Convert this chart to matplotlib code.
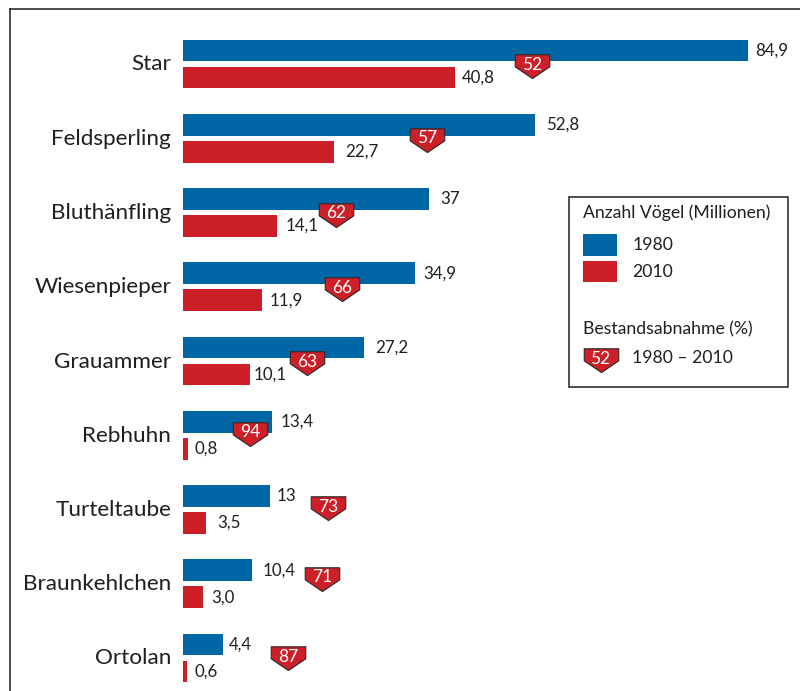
import matplotlib
matplotlib.use("Agg")
import matplotlib.pyplot as plt
from matplotlib.lines import Line2D
from matplotlib.patches import Rectangle
from matplotlib.path import Path
from matplotlib.transforms import Affine2D

plt.rcParams['font.family'] = ['Lato', 'Open Sans', 'DejaVu Sans']

species = ["Star", "Feldsperling", "Bluthänfling", "Wiesenpieper", "Grauammer",
           "Rebhuhn", "Turteltaube", "Braunkehlchen", "Ortolan"]
values_1980 = [84.9, 52.8, 37, 34.9, 27.2, 13.4, 13, 10.4, 6.0]
values_2010 = [40.8, 22.7, 14.1, 11.9, 10.1, 0.8, 3.5, 3.0, 0.6]
labels_1980 = ["84,9", "52,8", "37", "34,9", "27,2", "13,4", "13", "10,4", "4,4"]
labels_2010 = ["40,8", "22,7", "14,1", "11,9", "10,1", "0,8", "3,5", "3,0", "0,6"]
decline = [52, 57, 62, 66, 63, 94, 73, 71, 87]

# layout (not data)
badge_x = [52.4, 36.6, 23.0, 23.9, 18.6, 10.1, 21.8, 20.9, 15.8]
badge_dy = [.027, .017, .027, .037, .027, -.017, -.02, -.064, 0]
gap_1980 = [7, 11, 11, 8, 11, 8, 7, 10, 6]
gap_2010 = [7, 11, 9, 7, 3, 6, 11, 8, 8]

BLUE = "#0066A6"
RED = "#CC1F27"
INK = "#1f1f1f"
W, H = 800, 691
PX_PER_UNIT = 6.66
X0 = 183
ROW0, ROW = 64, 74.25

fig = plt.figure(figsize=(W / 100, H / 100), dpi=100, facecolor="white")
ax = fig.add_axes([X0 / W, 0, 1 - X0 / W, 1])
ax.set_xlim(0, (W - X0) / PX_PER_UNIT)
ax.set_ylim((H - ROW0) / ROW, -ROW0 / ROW)
for s in ax.spines.values():
    s.set_visible(False)
ax.set_xticks([])
ax.set_yticks(range(len(species)))
ax.set_yticklabels(species, fontsize=16.2, color=INK)
ax.tick_params(axis="y", length=0, pad=8.5)
for lbl in ax.get_yticklabels():
    lbl.set_transform(lbl.get_transform() + Affine2D().translate(0, 1.5))

rows = list(range(len(species)))
off, bh = 0.182, 0.295
ax.barh([r - off for r in rows], values_1980, height=bh, color=BLUE)
ax.barh([r + off for r in rows], values_2010, height=bh, color=RED)

px = Affine2D().scale(1 / W, -1 / H).translate(0, 1) + fig.transFigure
pt = 72 / 100

def fig_line(xs, ys):
    fig.add_artist(Line2D(xs, ys, transform=px, color=INK, lw=1.1))

fig_line([9.5, 9.5], [9.5, H])
fig_line([9.5, W], [9.5, 9.5])

for r, v, l, g in zip(rows, values_1980, labels_1980, gap_1980):
    ax.annotate(l, (v, r - off), xytext=(g * pt, 0), textcoords="offset points",
                va="center", ha="left", fontsize=12.2, color=INK)
for r, v, l, g in zip(rows, values_2010, labels_2010, gap_2010):
    ax.annotate(l, (v, r + off), xytext=(g * pt, 0), textcoords="offset points",
                va="center", ha="left", fontsize=12.2, color=INK)

badge = Path([(-1, .68), (1, .68), (1, -.02), (0, -.70), (-1, -.02), (-1, .68)],
             [Path.MOVETO, Path.LINETO, Path.LINETO, Path.LINETO, Path.LINETO, Path.CLOSEPOLY])
ms = 34.5 * pt

def draw_badge(a, x, y, txt, transform):
    a.plot([x], [y], marker=badge, ms=ms, mfc=RED, mec="#2a2a2a", mew=0.8, ls="none",
           transform=transform, clip_on=False, zorder=5)
    a.text(x, y, str(txt), transform=transform + Affine2D().translate(0, 1.5),
           ha="center", va="center", color="white", fontsize=12.5, zorder=6)

for r, x, dy, d in zip(rows, badge_x, badge_dy, decline):
    draw_badge(ax, x, r + dy, d, ax.transData)

# legend, in pixel coordinates of the figure
fig.add_artist(Rectangle((568.5, 196.5), 219.5, 190.5, transform=px, fc="white", ec=INK, lw=1.1, zorder=3))
lg = dict(transform=px, color=INK, fontsize=12.7, va="center", ha="left", zorder=4)
fig.text(583, 213, "Anzahl Vögel (Millionen)", **lg)
fig.add_artist(Rectangle((583, 234), 34, 22, transform=px, fc=BLUE, ec="none", zorder=4))
fig.add_artist(Rectangle((583, 261), 34, 21.5, transform=px, fc=RED, ec="none", zorder=4))
fig.text(632, 245, "1980", **lg)
fig.text(632, 272, "2010", **lg)
fig.text(583, 329, "Bestandsabnahme (%)", **lg)
fig.text(632, 358, "1980 – 2010", **lg)

lax = fig.add_axes([0, 0, 1, 1], facecolor="none", zorder=10)
lax.set_axis_off()
lax.set_xlim(0, W)
lax.set_ylim(H, 0)
draw_badge(lax, 600.5, 360, 52, lax.transData)

fig.savefig("out.png", dpi=100, facecolor="white")
